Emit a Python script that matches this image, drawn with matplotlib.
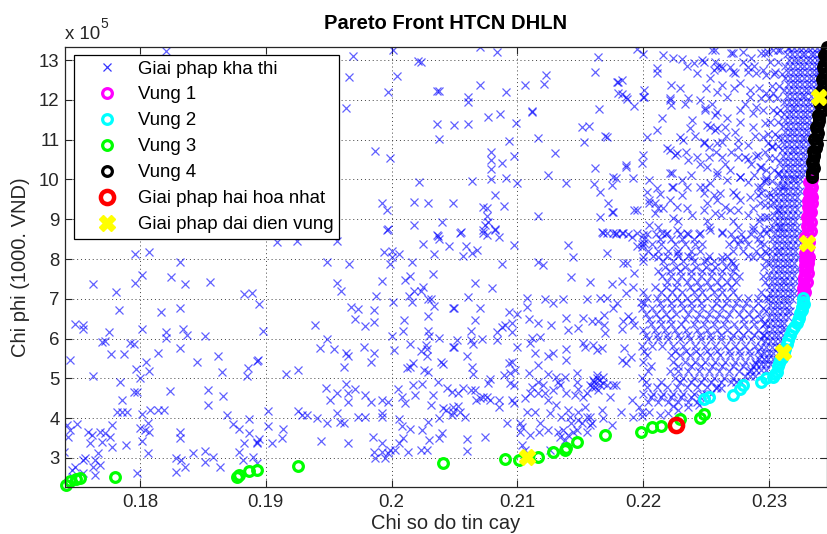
import numpy as np
import matplotlib.pyplot as plt
from matplotlib.ticker import FuncFormatter

plt.rcParams['font.family'] = ['Liberation Sans', 'DejaVu Sans']

# (reliability index, cost in 1e5 x 1000 VND)
feasible_left = [
    (0.1796, 8.13), (0.1807, 8.18), (0.1832, 7.92), (0.1763, 7.37), (0.1796, 7.40),
    (0.1802, 7.60), (0.1825, 7.55), (0.1836, 7.37), (0.1856, 7.42), (0.1781, 7.17),
    (0.1883, 7.12), (0.1889, 7.15), (0.1783, 6.72), (0.1832, 6.77), (0.1817, 6.67),
    (0.1748, 6.37), (0.1755, 6.34), (0.1755, 6.24), (0.1775, 6.17), (0.1802, 6.24),
    (0.1821, 6.17), (0.1821, 6.02), (0.1834, 6.24), (0.1837, 6.09), (0.1852, 6.07),
    (0.1770, 5.91), (0.1772, 5.94), (0.1792, 5.89), (0.1795, 5.86), (0.1832, 5.76),
    (0.1744, 5.46), (0.1777, 5.61), (0.1787, 5.61), (0.1814, 5.64), (0.1805, 5.41),
    (0.1807, 5.19), (0.1845, 5.41), (0.1862, 5.56), (0.1865, 5.16), (0.1893, 5.44),
    (0.1797, 5.24), (0.1763, 5.06), (0.1800, 5.01), (0.1784, 4.91), (0.1886, 5.26),
    (0.1885, 5.06), (0.1824, 4.68), (0.1854, 4.71), (0.1866, 4.56), (0.1795, 4.66),
    (0.1798, 4.66), (0.1786, 4.46), (0.1854, 4.33), (0.1782, 4.16), (0.1786, 4.16),
    (0.1790, 4.16), (0.1802, 4.11), (0.1808, 4.21), (0.1814, 4.21), (0.1819, 4.21),
    (0.1869, 4.08), (0.1887, 3.98), (0.1742, 3.83), (0.1750, 3.85), (0.1744, 3.70),
    (0.1743, 3.53), (0.1778, 3.83), (0.1800, 3.75), (0.1804, 3.70), (0.1807, 3.65),
    (0.1806, 3.88), (0.1759, 3.65), (0.1762, 3.58), (0.1768, 3.65), (0.1772, 3.63),
    (0.1776, 3.53), (0.1760, 3.38), (0.1770, 3.40), (0.1778, 3.28), (0.1789, 3.33),
    (0.1802, 3.43), (0.1832, 3.65), (0.1832, 3.50), (0.1874, 3.85), (0.1879, 3.73),
    (0.1887, 3.63), (0.1883, 3.38), (0.1893, 3.40), (0.1740, 3.15), (0.1767, 3.13),
    (0.1756, 3.00), (0.1755, 2.95), (0.1764, 2.95), (0.1748, 2.77), (0.1763, 2.77),
    (0.1768, 2.82), (0.1806, 3.13), (0.1829, 3.00), (0.1833, 2.95), (0.1842, 3.13),
    (0.1852, 3.18), (0.1858, 3.03), (0.1864, 2.77), (0.1852, 2.90), (0.1836, 2.77),
    (0.1829, 2.65), (0.1879, 3.15), (0.1882, 2.95), (0.1890, 3.03), (0.1893, 2.87),
    (0.1755, 2.62), (0.1764, 2.57), (0.1798, 2.62), (0.1747, 2.52), (0.1746, 2.70),
    (0.1821, 13.23),
]

feasible_center = [
    (0.1909, 8.43), (0.1925, 8.45), (0.1957, 8.45), (0.1996, 8.73), (0.2000, 8.20),
    (0.2006, 8.13), (0.2025, 8.38), (0.2037, 8.58), (0.2038, 8.50), (0.2046, 8.33),
    (0.2034, 8.13), (0.2016, 7.92), (0.1999, 7.87), (0.1949, 7.92), (0.1966, 7.87),
    (0.2033, 7.62), (0.2015, 7.57), (0.2011, 7.47), (0.1992, 7.45), (0.1957, 7.40),
    (0.1960, 7.20), (0.2025, 7.30), (0.2018, 7.20), (0.2023, 7.20), (0.1988, 7.07),
    (0.2014, 7.07), (0.2029, 6.99), (0.2031, 6.99), (0.2016, 6.92), (0.2001, 6.92),
    (0.2034, 6.82), (0.2049, 6.77), (0.1895, 6.87), (0.1968, 6.79), (0.1973, 6.74),
    (0.1986, 6.72), (0.2029, 6.57), (0.1971, 6.49), (0.1986, 6.42), (0.1979, 6.32),
    (0.2010, 6.47), (0.1939, 6.34), (0.1898, 6.19), (0.2009, 6.19), (0.2029, 6.19),
    (0.2030, 6.07), (0.2000, 6.07), (0.2038, 6.02), (0.1949, 5.99), (0.1943, 5.76),
    (0.1954, 5.74), (0.1978, 5.79), (0.2002, 5.71), (0.2015, 5.86), (0.2027, 5.84),
    (0.2028, 5.74), (0.2023, 5.69), (0.1964, 5.64), (0.1965, 5.56), (0.1986, 5.64),
    (0.2049, 5.79), (0.2028, 5.56), (0.1984, 5.41), (0.1962, 5.29), (0.2012, 5.26),
    (0.2015, 5.29), (0.2026, 5.21), (0.2029, 5.16), (0.2017, 5.39), (0.2039, 5.41),
    (0.2041, 5.36), (0.1894, 5.46), (0.1916, 5.11), (0.1926, 5.21), (0.1948, 4.76),
    (0.1951, 4.46), (0.1957, 4.63), (0.1964, 4.86), (0.1965, 4.63), (0.1971, 4.73),
    (0.1965, 4.41), (0.1979, 4.58), (0.1984, 4.41), (0.1992, 4.46), (0.1997, 4.41),
    (0.2005, 4.73), (0.2008, 4.53), (0.2011, 4.38), (0.2017, 4.83), (0.2019, 4.58),
    (0.2024, 4.86), (0.2033, 4.58), (0.2031, 4.33), (0.2037, 4.91), (0.2044, 4.76),
    (0.2041, 4.26), (0.2043, 4.21), (0.2049, 4.16), (0.1902, 4.18), (0.1926, 4.18),
    (0.1929, 4.08), (0.1933, 4.08), (0.1941, 4.01), (0.1949, 3.88), (0.1957, 4.13),
    (0.1959, 3.90), (0.1962, 3.88), (0.1973, 4.03), (0.1979, 4.03), (0.1992, 4.13),
    (0.1992, 4.03), (0.2006, 3.98), (0.2008, 3.80), (0.2015, 3.73), (0.2024, 3.70),
    (0.2029, 3.90), (0.2038, 4.01), (0.2040, 3.63), (0.2038, 3.50), (0.1902, 3.80),
    (0.1914, 3.73), (0.1913, 3.50), (0.1905, 3.38), (0.1895, 3.48), (0.1893, 3.38),
    (0.1944, 3.43), (0.1965, 3.38), (0.1985, 3.53), (0.1992, 3.38), (0.1986, 3.15),
    (0.1992, 3.15), (0.1999, 3.20), (0.2003, 3.20), (0.2006, 3.38), (0.2009, 3.50),
    (0.2013, 3.15), (0.2023, 3.20), (0.2028, 3.20), (0.2030, 3.45), (0.1987, 3.00),
    (0.1995, 3.00), (0.1997, 3.13),
]

feasible_mid = [
    (0.2054, 8.65), (0.2073, 8.65), (0.2082, 8.73), (0.2059, 8.33), (0.2057, 8.08),
    (0.2064, 8.15), (0.2068, 8.23), (0.2088, 7.87), (0.2097, 8.35), (0.2140, 8.35),
    (0.2144, 8.05), (0.2116, 7.92), (0.2120, 7.85), (0.2143, 7.55), (0.2158, 7.42),
    (0.2175, 7.37), (0.2183, 7.45), (0.2184, 7.90), (0.2168, 8.65), (0.2178, 8.63),
    (0.2184, 8.65), (0.2191, 8.55), (0.2195, 8.33), (0.2199, 8.30), (0.2066, 7.40),
    (0.2080, 7.27), (0.2061, 7.05), (0.2050, 6.77), (0.2070, 6.77), (0.2108, 7.02),
    (0.2122, 6.99), (0.2128, 6.89), (0.2136, 6.99), (0.2155, 6.99), (0.2166, 7.02),
    (0.2171, 7.02), (0.2179, 6.89), (0.2186, 7.15), (0.2192, 7.30), (0.2193, 7.65),
    (0.2198, 6.92), (0.2093, 6.67), (0.2100, 6.62), (0.2108, 6.79), (0.2109, 6.49),
    (0.2116, 6.39), (0.2127, 6.34), (0.2139, 6.52), (0.2140, 6.22), (0.2148, 6.27),
    (0.2152, 6.52), (0.2159, 6.44), (0.2164, 6.44), (0.2169, 6.59), (0.2169, 6.34),
    (0.2170, 6.14), (0.2184, 6.44), (0.2188, 6.57), (0.2191, 6.47), (0.2193, 6.34),
    (0.2176, 6.77), (0.2066, 6.47), (0.2063, 6.19), (0.2052, 5.96), (0.2063, 5.96),
    (0.2065, 5.86), (0.2072, 5.99), (0.2084, 6.17), (0.2084, 5.96), (0.2088, 6.29),
    (0.2090, 6.34), (0.2096, 6.39), (0.2096, 6.17), (0.2100, 5.79), (0.2110, 5.89),
    (0.2112, 6.02), (0.2118, 6.04), (0.2114, 5.64), (0.2124, 5.56), (0.2128, 5.64),
    (0.2139, 5.74), (0.2139, 5.46), (0.2152, 5.89), (0.2154, 5.79), (0.2160, 5.84),
    (0.2167, 5.76), (0.2163, 5.71), (0.2183, 6.24), (0.2185, 5.76), (0.2183, 5.46),
    (0.2186, 5.39), (0.2190, 5.54), (0.2050, 5.79), (0.2060, 5.56), (0.2064, 5.29),
    (0.2065, 5.11), (0.2078, 4.98), (0.2077, 4.88), (0.2089, 5.09), (0.2093, 5.39),
    (0.2096, 5.41), (0.2094, 5.14), (0.2098, 5.21), (0.2094, 4.88), (0.2097, 4.83),
    (0.2109, 5.14), (0.2116, 5.34), (0.2124, 5.11), (0.2131, 5.04), (0.2138, 5.04),
    (0.2147, 5.14), (0.2147, 4.91), (0.2163, 5.09), (0.2168, 5.04), (0.2162, 4.78),
    (0.2166, 4.83), (0.2164, 4.71), (0.2160, 4.96), (0.2158, 4.83), (0.2176, 4.83),
    (0.2178, 4.83), (0.2161, 4.90), (0.2165, 4.95), (0.2168, 4.88), (0.2163, 5.00),
    (0.2048, 4.66), (0.2053, 4.63), (0.2057, 4.76), (0.2063, 4.71), (0.2066, 4.71),
    (0.2067, 4.46), (0.2070, 4.51), (0.2073, 4.53), (0.2076, 4.53), (0.2078, 4.46),
    (0.2085, 4.46), (0.2085, 4.28), (0.2096, 4.46), (0.2097, 4.38), (0.2106, 4.51),
    (0.2110, 4.63), (0.2112, 4.78), (0.2116, 4.63), (0.2116, 4.91), (0.2120, 4.83),
    (0.2122, 4.63), (0.2128, 4.71), (0.2124, 4.46), (0.2132, 4.91), (0.2134, 4.83),
    (0.2139, 4.63), (0.2146, 4.58), (0.2148, 4.73), (0.2152, 4.53), (0.2155, 4.63),
    (0.2159, 4.78), (0.2171, 4.83), (0.2174, 4.53), (0.2191, 4.46), (0.2197, 4.28),
    (0.2199, 4.16), (0.2049, 4.28), (0.2053, 4.31), (0.2054, 4.16), (0.2058, 4.03),
    (0.2048, 4.08), (0.2108, 4.16), (0.2114, 4.16), (0.2118, 3.88), (0.2126, 4.13),
    (0.2131, 4.33), (0.2135, 4.03), (0.2140, 4.21), (0.2142, 4.03), (0.2143, 3.88),
    (0.2148, 4.16), (0.2148, 3.95), (0.2151, 3.88), (0.2154, 4.28), (0.2155, 4.03),
    (0.2158, 4.03), (0.2159, 3.88), (0.2167, 4.21), (0.2168, 4.01), (0.2175, 3.83),
    (0.2182, 4.16), (0.2192, 4.03), (0.2092, 3.88), (0.2102, 3.88), (0.2104, 3.78),
    (0.2102, 3.65), (0.2110, 3.58), (0.2117, 3.65), (0.2124, 3.70), (0.2132, 3.65),
    (0.2134, 3.53), (0.2136, 3.70), (0.2138, 3.45), (0.2140, 3.58), (0.2144, 3.65),
    (0.2147, 3.70), (0.2155, 3.65), (0.2158, 3.83), (0.2060, 3.48), (0.2074, 3.53),
    (0.2060, 3.18), (0.2104, 3.33), (0.2106, 3.20), (0.2126, 3.20),
    (0.2205, 4.15), (0.2213, 4.08), (0.2220, 4.14), (0.2228, 4.20), (0.2236, 4.28),
    (0.2244, 4.34), (0.2199, 4.05), (0.2224, 4.30),
]

feasible_upper = [
    (0.1969, 13.10), (0.2001, 13.25), (0.2021, 12.97), (0.2023, 12.95), (0.2070, 13.33),
    (0.2084, 13.20), (0.1966, 12.57), (0.2004, 12.60), (0.1997, 12.20), (0.2036, 12.22),
    (0.2038, 12.22), (0.2070, 12.37), (0.2091, 12.20), (0.2106, 12.37), (0.2061, 12.07),
    (0.2061, 11.94), (0.1964, 11.79), (0.2077, 11.57), (0.2086, 11.64), (0.2112, 11.69),
    (0.2036, 11.39), (0.2050, 11.37), (0.2061, 11.39), (0.2099, 11.42), (0.2038, 11.02),
    (0.2093, 10.96), (0.2116, 11.04), (0.1987, 10.71), (0.1999, 10.54), (0.2079, 10.69),
    (0.2079, 10.49), (0.2079, 10.26), (0.2088, 10.41), (0.2097, 10.59), (0.2022, 9.93),
    (0.2064, 9.96), (0.2079, 10.01), (0.2091, 10.04), (0.2100, 9.91), (0.1992, 9.41),
    (0.1996, 9.23), (0.2018, 9.43), (0.2029, 9.41), (0.2049, 9.41), (0.2082, 9.61),
    (0.2089, 9.33), (0.2073, 9.31), (0.2076, 9.28), (0.2076, 9.08), (0.2077, 8.93),
    (0.2074, 8.85), (0.2116, 9.08), (0.1997, 8.75), (0.2018, 8.85), (0.2040, 8.93),
    (0.2036, 8.60), (0.2055, 8.68), (0.2073, 8.73), (0.2076, 8.60), (0.2082, 8.75),
    (0.2085, 8.55), (0.2000, 8.05), (0.1994, 8.18),
    (0.2164, 13.08), (0.2195, 13.28), (0.2200, 13.15), (0.2216, 13.13), (0.2224, 13.05),
    (0.2231, 13.03), (0.2123, 12.62), (0.2121, 12.40), (0.2162, 12.70), (0.2211, 12.80),
    (0.2211, 12.67), (0.2180, 12.45), (0.2183, 12.50), (0.2180, 12.17), (0.2183, 12.15),
    (0.2187, 12.02), (0.2193, 11.84), (0.2201, 12.25), (0.2201, 12.07), (0.2222, 12.37),
    (0.2221, 12.00), (0.2222, 11.87), (0.2112, 11.72), (0.2165, 11.77), (0.2215, 11.54),
    (0.2151, 11.32), (0.2157, 11.34), (0.2211, 11.24), (0.2153, 10.94), (0.2170, 11.09),
    (0.2203, 11.07), (0.2130, 10.66), (0.2200, 10.61), (0.2199, 10.41), (0.2186, 10.31),
    (0.2162, 10.29), (0.2219, 10.79), (0.2221, 10.74), (0.2225, 10.61), (0.2124, 10.11),
    (0.2139, 9.91), (0.2161, 9.88), (0.2166, 9.68), (0.2175, 9.86), (0.2178, 10.04),
    (0.2192, 10.04), (0.2203, 9.68), (0.2211, 9.78), (0.2213, 9.63), (0.2205, 9.48),
    (0.2209, 9.41), (0.2221, 10.16), (0.2224, 9.81), (0.2172, 9.41), (0.2175, 9.18),
    (0.2195, 9.23), (0.2209, 9.16), (0.2212, 9.28), (0.2216, 9.28), (0.2224, 9.03),
    (0.2227, 9.31), (0.2166, 9.06), (0.2205, 8.85), (0.2212, 8.80), (0.2219, 8.65),
    (0.2167, 8.68), (0.2171, 8.65), (0.2178, 8.65), (0.2183, 8.65), (0.2188, 8.63),
    (0.2200, 8.60),
]

feasible_right = [
    (0.2240, 12.92), (0.2247, 13.00), (0.2257, 13.25), (0.2257, 12.95), (0.2271, 13.18),
    (0.2279, 12.95), (0.2286, 13.05), (0.2297, 13.18), (0.2179, 12.45), (0.2243, 12.67),
    (0.2256, 12.75), (0.2263, 12.80), (0.2273, 12.67), (0.2283, 12.70), (0.2295, 12.75),
    (0.2186, 12.07), (0.2200, 12.07), (0.2221, 12.05), (0.2236, 12.05), (0.2245, 12.00),
    (0.2259, 12.20), (0.2267, 12.07), (0.2285, 12.07), (0.2298, 12.17), (0.2239, 11.49),
    (0.2249, 11.74), (0.2257, 11.62), (0.2277, 11.74), (0.2290, 11.82), (0.2237, 11.29),
    (0.2229, 11.07), (0.2251, 11.37), (0.2259, 11.29), (0.2265, 11.32), (0.2273, 11.19),
    (0.2287, 11.32), (0.2297, 11.42), (0.2171, 11.07), (0.2227, 10.66), (0.2232, 10.99),
    (0.2248, 10.91), (0.2252, 10.81), (0.2259, 10.91), (0.2275, 10.99), (0.2283, 10.86),
    (0.2295, 11.07), (0.2302, 10.81), (0.2186, 10.36), (0.2223, 10.16), (0.2236, 10.49),
    (0.2243, 10.56), (0.2252, 10.56), (0.2263, 10.56), (0.2275, 10.56), (0.2283, 10.51),
    (0.2290, 10.59), (0.2294, 10.31), (0.2176, 10.06), (0.2205, 9.98), (0.2223, 9.81),
    (0.2231, 9.98), (0.2235, 9.81), (0.2245, 9.81), (0.2253, 9.91), (0.2267, 9.98),
    (0.2277, 10.06), (0.2283, 9.93), (0.2291, 9.81), (0.2298, 10.04), (0.2176, 9.18),
    (0.2193, 9.23), (0.2205, 9.41), (0.2221, 9.48), (0.2235, 9.28), (0.2248, 9.66),
    (0.2251, 9.41), (0.2259, 9.48), (0.2269, 9.23), (0.2277, 9.48), (0.2285, 9.56),
    (0.2293, 9.41), (0.2299, 9.56), (0.2176, 8.65), (0.2195, 8.65), (0.2201, 8.40),
    (0.2215, 8.65), (0.2227, 8.73), (0.2235, 8.65), (0.2245, 8.65), (0.2253, 8.73),
    (0.2263, 8.65), (0.2277, 8.48), (0.2287, 8.73), (0.2293, 8.40), (0.2171, 8.15),
    (0.2187, 7.90), (0.2200, 8.05), (0.2212, 8.05), (0.2227, 8.15), (0.2239, 8.05),
    (0.2251, 7.97), (0.2263, 8.05), (0.2271, 7.90), (0.2287, 8.05), (0.2298, 8.15),
    (0.2255, 13.25), (0.2270, 13.18), (0.2279, 13.20), (0.2294, 13.18), (0.2299, 13.20),
    (0.2307, 13.25), (0.2315, 13.30), (0.2248, 12.95), (0.2259, 12.82), (0.2269, 12.82),
    (0.2271, 12.70), (0.2283, 12.82), (0.2290, 12.67), (0.2298, 12.62), (0.2305, 12.70),
    (0.2253, 12.55), (0.2263, 12.37), (0.2277, 12.42), (0.2285, 12.25), (0.2294, 12.05),
    (0.2303, 12.17), (0.2249, 11.79), (0.2259, 11.69), (0.2267, 11.54), (0.2277, 11.44),
    (0.2287, 11.67), (0.2295, 11.74), (0.2306, 11.67), (0.2253, 11.32), (0.2257, 11.24),
    (0.2248, 10.94), (0.2263, 10.94), (0.2275, 10.81), (0.2281, 10.56), (0.2291, 10.61),
    (0.2299, 10.91), (0.2307, 11.07), (0.2251, 10.31), (0.2259, 10.19), (0.2269, 10.24),
    (0.2277, 10.06), (0.2293, 10.31), (0.2298, 9.98), (0.2307, 10.16), (0.2249, 9.81),
    (0.2261, 9.66), (0.2271, 9.68), (0.2294, 9.81), (0.2303, 9.56), (0.2311, 9.81),
    (0.2248, 9.23), (0.2257, 9.16), (0.2265, 9.31), (0.2275, 9.23), (0.2287, 9.28),
    (0.2297, 9.06), (0.2307, 9.23), (0.2252, 8.80), (0.2263, 8.68), (0.2275, 8.80),
    (0.2287, 8.80), (0.2298, 8.65), (0.2309, 8.80),
]

# dense cloud below y = 8.7e5, one row of reliability values per cost level
feasible_cloud = [
    (8.62, [0.2203, 0.2210, 0.2218, 0.2229, 0.2236, 0.2244, 0.2270, 0.2278, 0.2286, 0.2293]),
    (8.37, [0.2199, 0.2207, 0.2214, 0.2225, 0.2233, 0.2241, 0.2247, 0.2268, 0.2275, 0.2283, 0.2296]),
    (8.21, [0.2204, 0.2212, 0.2220, 0.2228, 0.2238, 0.2245, 0.2271, 0.2279, 0.2290, 0.2297]),
    (7.96, [0.2200, 0.2216, 0.2224, 0.2232, 0.2240, 0.2248, 0.2256, 0.2263, 0.2270, 0.2298]),
    (7.81, [0.2217, 0.2226, 0.2233, 0.2242, 0.2250, 0.2257, 0.2266, 0.2273, 0.2296]),
    (7.57, [0.2215, 0.2222, 0.2230, 0.2238, 0.2246, 0.2254, 0.2262, 0.2270, 0.2276, 0.2295]),
    (7.42, [0.2219, 0.2227, 0.2235, 0.2243, 0.2251, 0.2259, 0.2267, 0.2274, 0.2297]),
    (7.18, [0.2200, 0.2214, 0.2223, 0.2231, 0.2240, 0.2247, 0.2256, 0.2263, 0.2271, 0.2294]),
    (7.02, [0.2203, 0.2211, 0.2219, 0.2227, 0.2235, 0.2243, 0.2251, 0.2259, 0.2267, 0.2275,
            0.2283, 0.2291, 0.2298]),
    (6.78, [0.2199, 0.2207, 0.2215, 0.2223, 0.2232, 0.2239, 0.2247, 0.2255, 0.2263, 0.2271,
            0.2279, 0.2287, 0.2295]),
    (6.61, [0.2202, 0.2210, 0.2218, 0.2226, 0.2236, 0.2244, 0.2252, 0.2260, 0.2268, 0.2276,
            0.2284, 0.2292]),
    (6.37, [0.2206, 0.2214, 0.2222, 0.2230, 0.2240, 0.2248, 0.2256, 0.2264, 0.2272, 0.2280,
            0.2288, 0.2296]),
    (6.22, [0.2200, 0.2209, 0.2217, 0.2225, 0.2234, 0.2243, 0.2251, 0.2259, 0.2267, 0.2275,
            0.2283, 0.2291]),
    (5.98, [0.2204, 0.2212, 0.2220, 0.2229, 0.2237, 0.2246, 0.2254, 0.2262, 0.2270, 0.2278,
            0.2286, 0.2294]),
    (5.81, [0.2199, 0.2207, 0.2215, 0.2224, 0.2232, 0.2241, 0.2249, 0.2257, 0.2265, 0.2273,
            0.2281, 0.2289]),
    (5.58, [0.2203, 0.2222, 0.2229, 0.2237, 0.2245, 0.2253, 0.2261, 0.2269, 0.2277, 0.2285, 0.2293]),
    (5.42, [0.2200, 0.2224, 0.2233, 0.2241, 0.2249, 0.2257, 0.2265, 0.2273, 0.2281, 0.2289]),
    (5.18, [0.2204, 0.2221, 0.2228, 0.2236, 0.2244, 0.2252, 0.2260, 0.2268, 0.2276, 0.2284]),
    (5.02, [0.2199, 0.2225, 0.2232, 0.2240, 0.2248, 0.2256, 0.2264, 0.2271]),
    (4.78, [0.2203, 0.2211, 0.2219, 0.2227, 0.2235, 0.2243, 0.2251, 0.2259]),
    (4.62, [0.2200, 0.2208, 0.2216, 0.2224, 0.2232, 0.2240, 0.2247]),
    (4.41, [0.2204, 0.2212, 0.2220, 0.2228, 0.2236, 0.2243]),
    (13.25, [0.2303, 0.2309]), (12.95, [0.2301, 0.2307]), (12.65, [0.2304, 0.2310]),
    (12.35, [0.2302, 0.2308]), (12.05, [0.2300, 0.2306]), (11.75, [0.2303, 0.2309]),
    (11.45, [0.2301, 0.2307]), (11.15, [0.2299, 0.2305]), (10.85, [0.2302, 0.2307]),
    (10.55, [0.2300, 0.2305]), (10.25, [0.2298, 0.2304]), (9.95, [0.2296, 0.2302]),
    (9.65, [0.2294, 0.2300]), (9.35, [0.2297, 0.2301]), (9.05, [0.2293, 0.2299]),
    (8.75, [0.2296, 0.2300]),
]

# second pass over the same cloud, points lying between the rows above
feasible_cloud_fill = [
    (8.50, [0.2201, 0.2213, 0.2222, 0.2231, 0.2240, 0.2272, 0.2281, 0.2291]),
    (8.08, [0.2208, 0.2219, 0.2228, 0.2236, 0.2252, 0.2267, 0.2283, 0.2293]),
    (7.70, [0.2212, 0.2221, 0.2229, 0.2238, 0.2247, 0.2255, 0.2263, 0.2271]),
    (7.30, [0.2209, 0.2218, 0.2226, 0.2237, 0.2245, 0.2253, 0.2262, 0.2270]),
    (6.90, [0.2201, 0.2213, 0.2222, 0.2230, 0.2238, 0.2246, 0.2258, 0.2266, 0.2274, 0.2282, 0.2291]),
    (6.50, [0.2205, 0.2213, 0.2221, 0.2233, 0.2242, 0.2250, 0.2258, 0.2266, 0.2279, 0.2287, 0.2294]),
    (6.10, [0.2202, 0.2211, 0.2219, 0.2228, 0.2236, 0.2245, 0.2253, 0.2262, 0.2271, 0.2279,
            0.2288, 0.2295]),
    (5.70, [0.2201, 0.2225, 0.2234, 0.2242, 0.2251, 0.2259, 0.2268, 0.2276, 0.2284, 0.2291]),
    (5.30, [0.2206, 0.2228, 0.2238, 0.2246, 0.2255, 0.2263, 0.2271, 0.2279, 0.2287]),
    (4.90, [0.2202, 0.2214, 0.2229, 0.2238, 0.2246, 0.2254, 0.2262]),
    (4.52, [0.2206, 0.2214, 0.2222, 0.2230, 0.2238, 0.2245]),
    (12.85, [0.2235, 0.2262, 0.2288]),
    (12.30, [0.2229, 0.2250, 0.2272, 0.2292]),
    (11.90, [0.2233, 0.2255, 0.2281]),
    (11.10, [0.2241, 0.2266, 0.2289]),
    (10.70, [0.2234, 0.2258, 0.2270, 0.2297]),
    (10.40, [0.2245, 0.2265, 0.2286]),
    (10.10, [0.2238, 0.2259, 0.2288]),
    (9.60, [0.2231, 0.2256, 0.2274, 0.2291]),
    (9.10, [0.2239, 0.2262, 0.2283]),
    (8.95, [0.2228, 0.2251, 0.2271, 0.2292]),
]

# nearly solid band just behind the Pareto front
feasible_band = [
    (13.30, [0.2316, 0.2320, 0.2324, 0.2327, 0.2331, 0.2334, 0.2338, 0.2341]),
    (13.15, [0.2314, 0.2318, 0.2322, 0.2326, 0.2329, 0.2333, 0.2336, 0.2340]),
    (13.00, [0.2316, 0.2320, 0.2323, 0.2327, 0.2331, 0.2334, 0.2338, 0.2341]),
    (12.85, [0.2313, 0.2317, 0.2321, 0.2325, 0.2328, 0.2332, 0.2336, 0.2339]),
    (12.70, [0.2315, 0.2319, 0.2323, 0.2326, 0.2330, 0.2334, 0.2337, 0.2340]),
    (12.55, [0.2313, 0.2317, 0.2321, 0.2324, 0.2328, 0.2332, 0.2335, 0.2339]),
    (12.40, [0.2315, 0.2319, 0.2322, 0.2326, 0.2330, 0.2333, 0.2337]),
    (12.25, [0.2312, 0.2316, 0.2320, 0.2324, 0.2328, 0.2331, 0.2335, 0.2338]),
    (12.10, [0.2314, 0.2318, 0.2322, 0.2326, 0.2329, 0.2333, 0.2337]),
    (11.95, [0.2312, 0.2316, 0.2320, 0.2323, 0.2327, 0.2331, 0.2334]),
    (11.80, [0.2314, 0.2318, 0.2321, 0.2325, 0.2329, 0.2332, 0.2336]),
    (11.65, [0.2312, 0.2316, 0.2319, 0.2323, 0.2327, 0.2330, 0.2334]),
    (11.50, [0.2313, 0.2317, 0.2321, 0.2325, 0.2328, 0.2332]),
    (11.35, [0.2311, 0.2315, 0.2319, 0.2323, 0.2326, 0.2330, 0.2333]),
    (11.20, [0.2313, 0.2317, 0.2320, 0.2324, 0.2328, 0.2331]),
    (11.05, [0.2310, 0.2314, 0.2318, 0.2322, 0.2326, 0.2329, 0.2333]),
    (10.90, [0.2312, 0.2316, 0.2320, 0.2324, 0.2327, 0.2331]),
    (10.75, [0.2310, 0.2314, 0.2318, 0.2321, 0.2325, 0.2329]),
    (10.60, [0.2311, 0.2315, 0.2319, 0.2323, 0.2327, 0.2330]),
    (10.45, [0.2309, 0.2313, 0.2317, 0.2321, 0.2324, 0.2328]),
    (10.30, [0.2311, 0.2315, 0.2318, 0.2322, 0.2326, 0.2330]),
    (10.15, [0.2308, 0.2312, 0.2316, 0.2320, 0.2324, 0.2327]),
    (10.00, [0.2310, 0.2314, 0.2318, 0.2321, 0.2325]),
    (9.85, [0.2307, 0.2311, 0.2315, 0.2319, 0.2323]),
    (9.70, [0.2305, 0.2309, 0.2313, 0.2317, 0.2321, 0.2325]),
    (9.55, [0.2307, 0.2311, 0.2314, 0.2318, 0.2322]),
    (9.40, [0.2304, 0.2308, 0.2312, 0.2316, 0.2320, 0.2324]),
    (9.25, [0.2306, 0.2310, 0.2314, 0.2318, 0.2322]),
    (9.10, [0.2304, 0.2308, 0.2311, 0.2315, 0.2319, 0.2323]),
    (8.95, [0.2305, 0.2309, 0.2313, 0.2317, 0.2321]),
    (8.80, [0.2303, 0.2307, 0.2311, 0.2315, 0.2318, 0.2322]),
    (8.65, [0.2305, 0.2309, 0.2312, 0.2316, 0.2320, 0.2324]),
    (8.50, [0.2302, 0.2306, 0.2310, 0.2314, 0.2318, 0.2322]),
    (8.35, [0.2304, 0.2308, 0.2312, 0.2315, 0.2319, 0.2323]),
    (8.20, [0.2302, 0.2306, 0.2309, 0.2313, 0.2317, 0.2321]),
    (8.05, [0.2303, 0.2307, 0.2311, 0.2315, 0.2319, 0.2323]),
    (7.90, [0.2301, 0.2305, 0.2309, 0.2313, 0.2316, 0.2320]),
    (7.75, [0.2303, 0.2307, 0.2310, 0.2314, 0.2318, 0.2322]),
    (7.60, [0.2300, 0.2304, 0.2308, 0.2312, 0.2316, 0.2320]),
    (7.45, [0.2302, 0.2306, 0.2310, 0.2313, 0.2317, 0.2321]),
    (7.30, [0.2300, 0.2304, 0.2308, 0.2311, 0.2315, 0.2319]),
    (7.15, [0.2301, 0.2305, 0.2309, 0.2313, 0.2317, 0.2320]),
    (7.00, [0.2299, 0.2303, 0.2307, 0.2311, 0.2314, 0.2318]),
    (6.85, [0.2301, 0.2305, 0.2308, 0.2312, 0.2316]),
    (6.70, [0.2298, 0.2302, 0.2306, 0.2310, 0.2314, 0.2317]),
    (6.55, [0.2300, 0.2304, 0.2307, 0.2311, 0.2315]),
    (6.40, [0.2297, 0.2301, 0.2305, 0.2309, 0.2312]),
    (6.25, [0.2298, 0.2302, 0.2306, 0.2310, 0.2313]),
    (6.10, [0.2296, 0.2300, 0.2304, 0.2307, 0.2311]),
    (5.95, [0.2297, 0.2301, 0.2305, 0.2309]),
    (5.80, [0.2294, 0.2298, 0.2302, 0.2306, 0.2309]),
    (5.65, [0.2296, 0.2300, 0.2303, 0.2307]),
    (5.50, [0.2292, 0.2296, 0.2299, 0.2303, 0.2306]),
    (5.35, [0.2290, 0.2294, 0.2297, 0.2301]),
    (5.20, [0.2286, 0.2290, 0.2294, 0.2298]),
    (5.05, [0.2281, 0.2285, 0.2289]),
    (4.90, [0.2270, 0.2274, 0.2278]),
    (4.75, [0.2258, 0.2262]),
    (4.60, [0.2250, 0.2254]),
]

vung1 = [
    (0.2327, 7.10), (0.2329, 7.16), (0.2328, 7.22), (0.2327, 7.28), (0.2328, 7.35),
    (0.2330, 7.42), (0.2328, 7.48), (0.2328, 7.55), (0.2329, 7.60), (0.2331, 7.66),
    (0.2329, 7.72), (0.2330, 7.78), (0.2329, 7.85), (0.2331, 7.90), (0.2329, 7.97),
    (0.2331, 8.00), (0.2332, 8.05), (0.2330, 8.10), (0.2329, 8.16), (0.2330, 8.22),
    (0.2331, 8.28), (0.2330, 8.35), (0.2332, 8.44), (0.2330, 8.50), (0.2329, 8.56),
    (0.2331, 8.62), (0.2333, 8.70), (0.2331, 8.75), (0.2330, 8.82), (0.2331, 8.88),
    (0.2333, 8.94), (0.2331, 9.00), (0.2330, 9.06), (0.2332, 9.12), (0.2333, 9.18),
    (0.2332, 9.25), (0.2331, 9.31), (0.2332, 9.38), (0.2334, 9.40), (0.2331, 9.45),
    (0.2332, 9.50), (0.2334, 9.56), (0.2333, 9.62), (0.2332, 9.68), (0.2333, 9.75),
    (0.2334, 9.81), (0.2333, 9.87), (0.2332, 9.93), (0.2334, 10.00),
]
vung2 = [
    (0.2248, 4.48), (0.2252, 4.53), (0.2271, 4.58), (0.2277, 4.73), (0.2279, 4.83),
    (0.2294, 4.91), (0.2298, 5.02), (0.2303, 5.04), (0.2305, 5.10), (0.2306, 5.16),
    (0.2307, 5.30), (0.2308, 5.39), (0.2309, 5.45), (0.2310, 5.51), (0.2312, 5.63),
    (0.2313, 5.75), (0.2314, 5.86), (0.2315, 5.96), (0.2317, 6.09), (0.2318, 6.22),
    (0.2320, 6.30), (0.2322, 6.39), (0.2323, 6.46), (0.2324, 6.52), (0.2325, 6.65),
    (0.2326, 6.72), (0.2326, 6.80), (0.2328, 6.86), (0.2327, 6.92), (0.2327, 7.02),
]
vung3 = [
    (0.1741, 2.33), (0.1744, 2.42), (0.1749, 2.48), (0.1752, 2.50), (0.1780, 2.53),
    (0.1877, 2.53), (0.1879, 2.57), (0.1887, 2.66), (0.1893, 2.70), (0.1926, 2.81),
    (0.2041, 2.87), (0.2090, 2.97), (0.2101, 2.95), (0.2116, 3.02), (0.2128, 3.15),
    (0.2138, 3.20), (0.2139, 3.25), (0.2147, 3.40), (0.2170, 3.58), (0.2198, 3.65),
    (0.2207, 3.78), (0.2214, 3.80), (0.2229, 3.98), (0.2245, 4.00), (0.2248, 4.11),
]
vung4 = [
    (0.2334, 10.06), (0.2334, 10.13), (0.2334, 10.20), (0.2336, 10.28), (0.2335, 10.36),
    (0.2334, 10.43), (0.2335, 10.50), (0.2336, 10.58), (0.2336, 10.65), (0.2335, 10.72),
    (0.2337, 10.80), (0.2338, 10.88), (0.2337, 10.95), (0.2336, 11.02), (0.2338, 11.10),
    (0.2339, 11.18), (0.2338, 11.25), (0.2337, 11.32), (0.2339, 11.40), (0.2340, 11.48),
    (0.2340, 11.55), (0.2339, 11.62), (0.2341, 11.70), (0.2342, 11.78), (0.2341, 11.85),
    (0.2340, 11.92), (0.2342, 12.00), (0.2343, 12.08), (0.2342, 12.15), (0.2341, 12.22),
    (0.2343, 12.30), (0.2344, 12.38), (0.2343, 12.45), (0.2342, 12.52), (0.2344, 12.60),
    (0.2345, 12.68), (0.2344, 12.75), (0.2343, 12.82), (0.2344, 12.90), (0.2345, 12.98),
    (0.2345, 13.05), (0.2344, 13.12), (0.2345, 13.20), (0.2346, 13.27), (0.2346, 13.33),
]
hai_hoa = [(0.2226, 3.83)]
dai_dien = [(0.2108, 3.02), (0.2311, 5.66), (0.2330, 8.40), (0.2340, 12.07)]


def unpack(pairs):
    arr = np.array(pairs)
    return arr[:, 0], arr[:, 1] * 1e5


def unpack_rows(rows):
    xs, ys = [], []
    for y, row in rows:
        xs += row
        ys += [y] * len(row)
    return np.array(xs), np.array(ys) * 1e5


parts = [unpack(feasible_left), unpack(feasible_center), unpack(feasible_mid),
         unpack(feasible_upper), unpack(feasible_right),
         unpack_rows(feasible_cloud), unpack_rows(feasible_cloud_fill),
         unpack_rows(feasible_band)]
fx = np.concatenate([p[0] for p in parts])
fy = np.concatenate([p[1] for p in parts])

fig = plt.figure(figsize=(8.28, 5.34), dpi=100)
ax = fig.add_axes([65 / 828, 47 / 534, 762 / 828, 440 / 534])

ax.plot(fx, fy, 'x', color='#0000ff', alpha=0.62, ms=5.2, mew=0.9, ls='none',
        label='Giai phap kha thi')

circle = dict(ls='none', marker='o', mfc='none', ms=7, mew=2.3, clip_on=False)
for pts, col, lab in [(vung1, '#ff00ff', 'Vung 1'), (vung2, '#00ffff', 'Vung 2'),
                      (vung3, '#00ff00', 'Vung 3'), (vung4, '#000000', 'Vung 4')]:
    x, y = unpack(pts)
    ax.plot(x, y, mec=col, label=lab, **circle)

x, y = unpack(hai_hoa)
ax.plot(x, y, ls='none', marker='o', mfc='none', mec='#ff0000', ms=9.5, mew=3.2,
        clip_on=False, label='Giai phap hai hoa nhat')
x, y = unpack(dai_dien)
ax.plot(x, y, ls='none', marker='X', color='#ffff00', mec='#ffff00', ms=12,
        clip_on=False, label='Giai phap dai dien vung')

ax.set_xlim(0.17404, 0.23461)
ax.set_ylim(2.27e5, 13.33e5)
ax.set_xticks([0.18, 0.19, 0.20, 0.21, 0.22, 0.23])
ax.set_xticklabels(['0.18', '0.19', '0.2', '0.21', '0.22', '0.23'])
ax.set_yticks(np.arange(3, 14) * 1e5)
ax.yaxis.set_major_formatter(FuncFormatter(lambda v, p: f'{v / 1e5:.0f}'))

ax.grid(True, linestyle=(0, (1, 3)), color='0.25', linewidth=0.7)
ax.tick_params(direction='in', top=True, right=True, length=5, width=0.8,
               labelsize=13.4, colors='0.15', pad=5)
ax.tick_params(axis='y', pad=4)
for s in ax.spines.values():
    s.set_linewidth(0.9)
    s.set_color('0.15')

ax.set_xlabel('Chi so do tin cay', fontsize=14.5, color='0.15')
ax.xaxis.set_label_coords(0.5, -0.084)
ax.xaxis.label.set_va('center')
ax.set_ylabel('Chi phi (1000. VND)', fontsize=14.5, color='0.15')
ax.yaxis.set_label_coords(-0.058, 0.5)
ax.yaxis.label.set_va('center')
ax.set_title('Pareto Front HTCN DHLN', fontsize=14.5, fontweight='bold', pad=13)

ax.text(0.0, 1.018, 'x 10', transform=ax.transAxes, fontsize=13.4, color='0.15',
        ha='left', va='baseline')
ax.text(0.046, 1.043, '5', transform=ax.transAxes, fontsize=10, color='0.15',
        ha='left', va='baseline')

leg = ax.legend(loc='upper left', bbox_to_anchor=(0.0118, 0.982), borderaxespad=0,
                fancybox=False, edgecolor='k', framealpha=1, fontsize=13.4,
                borderpad=0.3, labelspacing=0.48, handlelength=3.0,
                handletextpad=0.15, numpoints=1)
leg.get_frame().set_linewidth(0.9)
for h in leg.legend_handles[:1]:
    h.set_alpha(0.8)

fig.savefig('out.png', dpi=100)
